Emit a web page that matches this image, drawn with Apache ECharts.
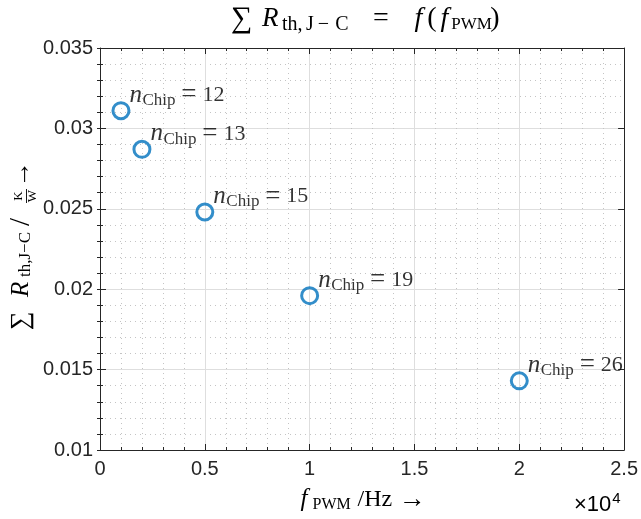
<!DOCTYPE html>
<html><head><meta charset="utf-8">
<script src="https://cdn.jsdelivr.net/npm/echarts@6/dist/echarts.min.js"></script>
<style>html,body{margin:0;padding:0;background:#fff}#c{width:641px;height:519px}</style>
</head><body><div id="c"></div>
<script>
const fPWM = [1000, 2000, 5000, 10000, 20000];
const rth = [0.0311, 0.0287, 0.0248, 0.0196, 0.0143];
const nChip = [12, 13, 15, 19, 26];
const xTickLabels = ['0', '0.5', '1', '1.5', '2', '2.5'];
const yTickLabels = ['0.01', '0.015', '0.02', '0.025', '0.03', '0.035'];

const chart = echarts.init(document.getElementById('c'));
const serif = '"Liberation Serif","DejaVu Serif",serif';
const sans = '"Liberation Sans",Arial,sans-serif';
const axC = '#262626';
const XMIN = 0, XMAX = 25000, XINT = 5000, XMINOR = 1000;
const YMIN = 0.01, YMAX = 0.035, YINT = 0.005, YMINOR = 0.001;

function tok(size, width, opts) {
  return Object.assign({fontFamily: serif, fontSize: size, color: '#000', fontWeight: 'normal',
    width: width, align: 'left'}, opts || {});
}
function tickAxis(extra) {
  return Object.assign({
    type: 'value',
    axisLine: {show: false},
    axisTick: {show: true, inside: true, length: 3, lineStyle: {color: axC}},
    axisLabel: {show: false}, splitLine: {show: false}
  }, extra);
}
const subPad = [12, 0, 0, 0];

const option = {
  animation: false,
  backgroundColor: '#ffffff',
  title: {
    text: '{sum|∑}{R|R}{t|th,}{j|J}{m|−}{c|C}{eq|=}{f1|f}{p1|(}{f2|f}{s2|PWM}{p2|)}',
    left: 226, top: -2,
    textStyle: {fontWeight: 'normal', rich: {
      sum: tok(30, 31),
      R: tok(27, 20, {fontStyle: 'italic'}),
      t: tok(20, 24, {padding: subPad}),
      j: tok(20, 10, {padding: subPad}),
      m: tok(20, 15, {padding: subPad, align: 'center'}),
      c: tok(20, 22, {padding: subPad}),
      eq: tok(28, 56, {align: 'center'}),
      f1: tok(28, 19, {fontStyle: 'italic'}),
      p1: tok(28, 8),
      f2: tok(28, 17, {fontStyle: 'italic'}),
      s2: tok(17, 37, {padding: subPad}),
      p2: tok(28, 10)
    }}
  },
  grid: {left: 100, right: 13, top: 48, bottom: 69},
  xAxis: [
    {
      type: 'value', min: XMIN, max: XMAX, interval: XINT,
      axisLine: {show: true, onZero: false, lineStyle: {color: axC, width: 1}},
      axisTick: {show: true, inside: true, length: 6, lineStyle: {color: axC}},
      axisLabel: {color: axC, fontFamily: sans, fontSize: 20, margin: 9,
        formatter: v => xTickLabels[Math.round(v / XINT)]},
      splitLine: {show: true, lineStyle: {color: '#dedede', width: 1}},
      minorTick: {show: false, splitNumber: 5},
      minorSplitLine: {show: true, lineStyle: {color: '#c4c4c4', type: [1, 4], width: 1}},
      name: '{f|f}{s|PWM}{a|/Hz}{r|→}',
      nameLocation: 'middle', nameGap: 36,
      nameTextStyle: {rich: {
        f: tok(25, 12, {fontStyle: 'italic'}),
        s: tok(16, 45, {padding: [10, 0, 0, 0]}),
        a: tok(24, 41),
        r: tok(27, 25)
      }}
    },
    {type: 'value', position: 'top', min: XMIN, max: XMAX, interval: XINT,
      axisLine: {show: true, onZero: false, lineStyle: {color: axC}},
      axisTick: {show: true, inside: true, length: 6, lineStyle: {color: axC}},
      axisLabel: {show: false}, splitLine: {show: false}},
    tickAxis({position: 'bottom', min: XMIN, max: XMAX, interval: XMINOR}),
    tickAxis({position: 'top', min: XMIN, max: XMAX, interval: XMINOR})
  ],
  yAxis: [
    {
      type: 'value', min: YMIN, max: YMAX, interval: YINT,
      axisLine: {show: true, onZero: false, lineStyle: {color: axC, width: 1}},
      axisTick: {show: true, inside: true, length: 6, lineStyle: {color: axC}},
      axisLabel: {color: axC, fontFamily: sans, fontSize: 20, margin: 7,
        formatter: v => yTickLabels[Math.round((v - YMIN) / YINT)]},
      splitLine: {show: true, lineStyle: {color: '#dedede', width: 1}},
      minorTick: {show: false, splitNumber: 5},
      minorSplitLine: {show: true, lineStyle: {color: '#c4c4c4', type: [1, 4], width: 1}}
    },
    {type: 'value', position: 'right', min: YMIN, max: YMAX, interval: YINT,
      axisLine: {show: true, onZero: false, lineStyle: {color: axC}},
      axisTick: {show: true, inside: true, length: 6, lineStyle: {color: axC}},
      axisLabel: {show: false}, splitLine: {show: false}},
    tickAxis({position: 'left', min: YMIN, max: YMAX, interval: YMINOR}),
    tickAxis({position: 'right', min: YMIN, max: YMAX, interval: YMINOR})
  ],
  graphic: [
    {
      type: 'text', left: 574, top: 491,
      style: {text: '{a|×10}{e|4}', rich: {
        a: {fontFamily: sans, fontSize: 22, color: axC},
        e: {fontFamily: sans, fontSize: 15, color: axC, padding: [0, 0, 13, 1]}
      }}
    },
    {
      type: 'group', x: 21, y: 330, rotation: Math.PI / 2,
      children: [
        {type: 'text', x: 0, y: 0, style: {
          text: '{sum|∑}{R|R}{s|th,J−C}{sl|/}', align: 'left', verticalAlign: 'middle',
          rich: {
            sum: tok(26, 33),
            R: tok(25, 20, {fontStyle: 'italic'}),
            s: tok(17, 51, {padding: [10, 0, 0, 0]}),
            sl: tok(29, 21)
          }}},
        {type: 'text', x: 134, y: -2, style: {text: 'K', align: 'center', verticalAlign: 'middle',
          fontFamily: serif, fontSize: 13, fill: '#000'}},
        {type: 'line', shape: {x1: 127, y1: 5.5, x2: 141, y2: 5.5}, style: {stroke: '#000', lineWidth: 0.9}},
        {type: 'text', x: 134, y: 12, style: {text: 'W', align: 'center', verticalAlign: 'middle',
          fontFamily: serif, fontSize: 13, fill: '#000'}},
        {type: 'text', x: 143, y: 1, style: {text: '→', align: 'left', verticalAlign: 'middle',
          fontFamily: serif, fontSize: 26, fill: '#000'}}
      ]
    }
  ],
  series: [{
    type: 'scatter',
    data: fPWM.map((x, i) => [x, rth[i], nChip[i]]),
    symbol: 'circle', symbolSize: 16,
    itemStyle: {color: 'rgba(0,0,0,0)', borderColor: '#0072BD', borderWidth: 3},
    label: {
      show: true, position: [18, -20],
      formatter: p => '{n|n}{s|Chip}{e|=}{d|' + p.value[2] + '}',
      rich: {
        n: tok(25, 13, {fontStyle: 'italic'}),
        s: tok(17, 33, {padding: [11, 0, 0, 0]}),
        e: tok(27, 27, {align: 'right'}),
        d: tok(22, 22)
      }
    }
  }]
};
chart.setOption(option);
</script>
</body></html>
